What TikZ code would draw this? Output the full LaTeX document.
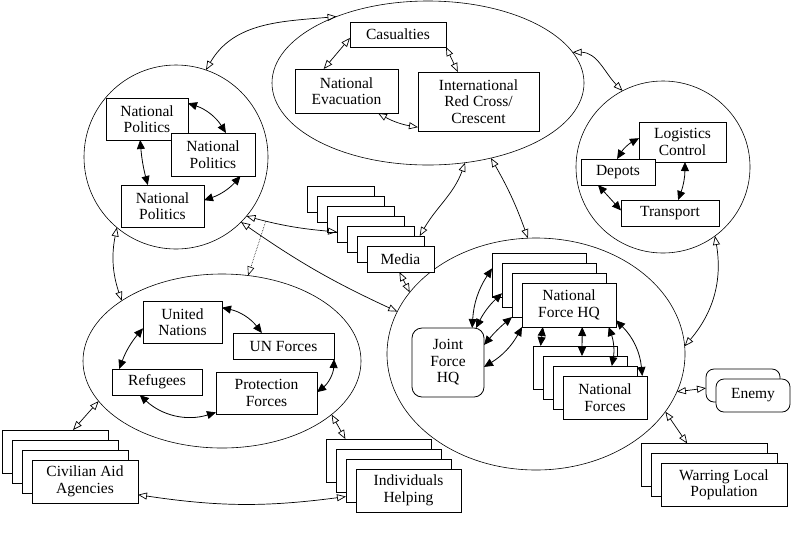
\documentclass[tikz,border=0pt]{standalone}
\usepackage{fontspec}
\setmainfont{Liberation Serif}
\usetikzlibrary{shapes.geometric,arrows.meta}

\tikzset{
  box/.style={draw, fill=white, line width=0.8pt, align=center, inner sep=0pt, outer sep=0pt},
  group/.style={draw, ellipse, line width=0.6pt, inner sep=0pt, outer sep=0pt},
  link/.style={line width=0.8pt, {Triangle[length=9pt,width=8pt]}-{Triangle[length=9pt,width=8pt]}},
  tie/.style={line width=0.7pt, {Triangle[open,length=9pt,width=7pt]}-{Triangle[open,length=9pt,width=7pt]}},
}

\begin{document}
\begin{tikzpicture}[x=1pt, y=-1pt, font=\fontsize{15.5}{16.5}\selectfont]
\useasboundingbox (0,0) rectangle (791,550);

  % groups
  \node[group, minimum width=312pt, minimum height=164pt] (gcas) at (428,83) {};
  \node[group, minimum width=184pt, minimum height=184pt] (gpol) at (176,157) {};
  \node[group, minimum width=174pt, minimum height=172pt] (glog) at (663,167) {};
  \node[group, minimum width=278pt, minimum height=174pt] (gun) at (222,361) {};
  \node[group, minimum width=298pt, minimum height=232pt] (gforce) at (536,354) {};

  % casualties
  \node[box, minimum width=96pt, minimum height=25pt] (cas) at (398,34.5) {Casualties};
  \node[box, minimum width=103pt, minimum height=44pt] (evacn) at (346.5,91) {National\\Evacuation};
  \node[box, minimum width=121pt, minimum height=59pt] (irc) at (478.5,101.5) {International\\Red Cross/\\Crescent};

  % politics
  \node[box, minimum width=82pt, minimum height=42pt] (np1) at (147,119) {National\\Politics};
  \node[box, minimum width=84pt, minimum height=43pt] (np2) at (213,154.5) {National\\Politics};
  \node[box, minimum width=83pt, minimum height=42pt] (np3) at (162.5,206) {National\\Politics};

  % logistics
  \node[box, minimum width=87pt, minimum height=40pt] (lc) at (682.5,142) {Logistics\\Control};
  \node[box, minimum width=74pt, minimum height=26pt] (dep) at (618,172) {Depots};
  \node[box, minimum width=98pt, minimum height=26pt] (tra) at (670,213) {Transport};

  % UN
  \node[box, minimum width=79pt, minimum height=42pt] (un) at (182.5,322) {United\\Nations};
  \node[box, minimum width=101pt, minimum height=26pt] (unf) at (283.5,346) {UN Forces};
  \node[box, minimum width=90pt, minimum height=26pt] (ref) at (157,382) {Refugees};
  \node[box, minimum width=101pt, minimum height=42pt] (pf) at (266.5,393) {Protection\\Forces};

  % forces
  \node[box, rounded corners=10pt, minimum width=72pt, minimum height=69pt] (jf) at (448,362.5) {Joint\\Force\\HQ};
  \foreach \i in {3,2,1}
    \node[box, minimum width=94pt, minimum height=44pt] (nfhq\i) at (569-10*\i,305-10*\i) {};
  \node[box, minimum width=94pt, minimum height=44pt] (nfhq0) at (569,305) {National\\Force HQ};
  \foreach \i in {3,2,1}
    \node[box, minimum width=84pt, minimum height=43pt] (nf\i) at (605-10*\i,397.5-10*\i) {};
  \node[box, minimum width=84pt, minimum height=43pt] (nf0) at (605,397.5) {National\\Forces};

  % stacks outside
  \foreach \i in {6,5,...,1}
    \node[box, minimum width=67pt, minimum height=26pt] (media\i) at (400.5-10*\i,259-10*\i) {};
  \node[box, minimum width=67pt, minimum height=26pt] (media0) at (400.5,259) {Media};
  \foreach \i in {3,2,1}
    \node[box, minimum width=106pt, minimum height=43pt] (caa\i) at (85-10*\i,481.5-10*\i) {};
  \node[box, minimum width=106pt, minimum height=43pt] (caa0) at (85,481.5) {Civilian Aid\\Agencies};
  \foreach \i in {3,2,1}
    \node[box, minimum width=105pt, minimum height=43pt] (ih\i) at (408.5-10*\i,490.5-10*\i) {};
  \node[box, minimum width=105pt, minimum height=43pt] (ih0) at (408.5,490.5) {Individuals\\Helping};
  \node[box, rounded corners=8pt, minimum width=74pt, minimum height=33pt] (enemy1) at (743,385.5) {};
  \node[box, rounded corners=8pt, minimum width=74pt, minimum height=33pt] (enemy0) at (753,395.5) {Enemy};
  \foreach \i in {2,1}
    \node[box, minimum width=126pt, minimum height=43pt] (war\i) at (724-10*\i,485-10*\i) {};
  \node[box, minimum width=126pt, minimum height=43pt] (war0) at (724,485) {Warring Local\\Population};

  % links inside groups
  \draw[tie] (cas.184) -- (evacn.136);
  \draw[tie] (cas.south east) -- (irc.125);
  \draw[tie] (evacn.325) to[bend right=10] (irc.203);

  \draw[link] (np1.21) to[bend left=20] (np2.59);
  \draw[link] (np1.252) to[bend right=5] (np3.125);
  \draw[link] (np2.322) to[bend left=15] (np3.8);

  \draw[link] (lc.175) to[bend right=15] (dep.94);
  \draw[link] (lc.277) to[bend left=10] (tra.58);
  \draw[link] (dep.213) -- (tra.177);

  \draw[link] (un.20) to[bend left=20] (unf.149);
  \draw[link] (un.189) to[bend right=10] (ref.161);
  \draw[link] (unf.south east) to[bend left=25] (pf.1);
  \draw[link] (ref.217) to[bend right=30] (pf.201);

  \draw[link] (jf.55) to[bend left=15] (nfhq3.172);
  \draw[link] (jf.51) to[bend left=10] (nfhq2.190);
  \draw[link] (jf.26) to[bend left=5] (nfhq1.south west);
  \draw[link] (jf.353) to[bend right=15] (nfhq0.south west);
  \draw[link] (nfhq0.220) -- (nf3.148);
  \draw[link] (nfhq0.301) -- (nf2.98);
  \draw[link] (nfhq0.331) to[bend left=15] (nf1.52);
  \draw[link] (nfhq0.342) to[bend left=20] (nf0.30);

  % ties between groups
  \draw[tie] (gpol.71) to[out=60, in=185] (gcas.144);
  \draw[tie] (gcas.12) to[out=0, in=135] (glog.118);
  \draw[tie] (gcas.310) to[bend left=5] (gforce.94);
  \draw[tie] (gcas.295) to[out=250, in=60] (media1.24);
  \draw[tie] (gpol.320) to[out=-15, in=175] coordinate[pos=0.2] (split) (media3.185);
  \draw[line width=0.6pt, densely dotted, -{Triangle[open,length=9pt,width=7pt]}] (split) -- (gun.73);
  \draw[tie] (gpol.315) to[bend right=5] (gforce.163);
  \draw[tie] (media0.265) -- (gforce.154);
  \draw[tie] (gpol.230) to[bend right=15] (gun.149);
  \draw[tie] (gun.198) -- (caa3.50);
  \draw[tie] (gun.334) -- (ih3.147);
  \draw[tie] (caa0.346) to[bend right=8] (ih1.197);
  \draw[tie] (glog.307) to[bend left=25] (gforce.3);
  \draw[tie] (gforce.345) -- (enemy1.184);
  \draw[tie] (gforce.336) -- (war2.128);

\end{tikzpicture}
\end{document}
